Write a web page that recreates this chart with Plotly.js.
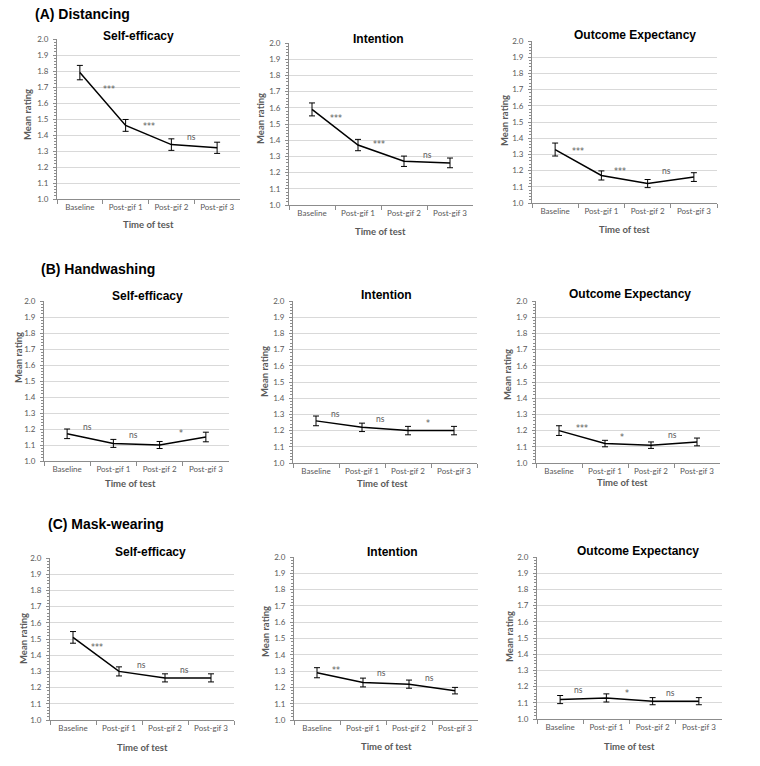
<!DOCTYPE html>
<html>
<head>
<meta charset="utf-8">
<script src="https://cdn.plot.ly/plotly-3.0.1.min.js"></script>
<style>html,body{margin:0;padding:0;background:#fff;}#chart{width:760px;height:766px;}</style>
</head>
<body>
<div id="chart"></div>
<script>
// ---------------- DATA ----------------
const categories = ['Baseline', 'Post-gif 1', 'Post-gif 2', 'Post-gif 3'];
const measures = ['Self-efficacy', 'Intention', 'Outcome Expectancy'];
const behaviours = ['(A) Distancing', '(B) Handwashing', '(C) Mask-wearing'];

const distSE = [1.79, 1.46, 1.34, 1.32];
const distSEerr = [0.045, 0.037, 0.036, 0.035];
const distInt = [1.59, 1.37, 1.27, 1.26];
const distIntErr = [0.04, 0.035, 0.032, 0.03];
const distOE = [1.33, 1.17, 1.12, 1.16];
const distOEerr = [0.04, 0.028, 0.025, 0.027];

const handSE = [1.17, 1.11, 1.10, 1.15];
const handSEerr = [0.03, 0.025, 0.022, 0.03];
const handInt = [1.26, 1.22, 1.20, 1.20];
const handIntErr = [0.03, 0.026, 0.026, 0.026];
const handOE = [1.20, 1.12, 1.11, 1.13];
const handOEerr = [0.03, 0.02, 0.02, 0.024];

const maskSE = [1.51, 1.30, 1.26, 1.26];
const maskSEerr = [0.036, 0.028, 0.025, 0.025];
const maskInt = [1.29, 1.23, 1.22, 1.18];
const maskIntErr = [0.031, 0.027, 0.025, 0.02];
const maskOE = [1.12, 1.13, 1.11, 1.11];
const maskOEerr = [0.025, 0.025, 0.022, 0.022];

const distSEsig = ['***', '***', 'ns'];
const distIntSig = ['***', '***', 'ns'];
const distOEsig = ['***', '***', 'ns'];
const handSEsig = ['ns', 'ns', '*'];
const handIntSig = ['ns', 'ns', '*'];
const handOEsig = ['***', '*', 'ns'];
const maskSEsig = ['***', 'ns', 'ns'];
const maskIntSig = ['**', 'ns', 'ns'];
const maskOEsig = ['ns', '*', 'ns'];

const yTickVals = [1.0, 1.1, 1.2, 1.3, 1.4, 1.5, 1.6, 1.7, 1.8, 1.9, 2.0];

// ---------------- LAYOUT (pixel geometry) ----------------
const W = 760, H = 766;
const fx = p => p / W;
const fy = p => 1 - p / H;

const series = [
  [distSE, distSEerr, distSEsig], [distInt, distIntErr, distIntSig], [distOE, distOEerr, distOEsig],
  [handSE, handSEerr, handSEsig], [handInt, handIntErr, handIntSig], [handOE, handOEerr, handOEsig],
  [maskSE, maskSEerr, maskSEsig], [maskInt, maskIntErr, maskIntSig], [maskOE, maskOEerr, maskOEsig]
];

// [x0, x1, yTop, yBottom], title (x,y), ylabel (x,y), xlabel (x,y), significance label positions
const geom = [
  {box: [57, 240, 39, 199], t: [138, 36], yl: [28, 114], xl: [148, 225], sig: [[0.63, 1.70], [1.5, 1.47], [2.43, 1.39]]},
  {box: [289, 473, 43, 205], t: [378, 39], yl: [260, 119], xl: [381, 231], sig: [[0.52, 1.55], [1.46, 1.39], [2.5, 1.31]]},
  {box: [532, 717, 41, 203], t: [635, 35], yl: [505, 121], xl: [624, 229], sig: [[0.5, 1.33], [1.4, 1.21], [2.4, 1.20]]},
  {box: [44, 229, 301, 461], t: [147, 296], yl: [18, 358], xl: [130, 483], sig: [[0.44, 1.21], [1.43, 1.16], [2.47, 1.19]]},
  {box: [293, 477, 301, 463], t: [386, 295], yl: [264, 372], xl: [383, 483], sig: [[0.42, 1.30], [1.40, 1.27], [2.43, 1.26]]},
  {box: [536, 720, 301, 463], t: [630, 294], yl: [508, 375], xl: [622, 482], sig: [[0.51, 1.23], [1.38, 1.17], [2.46, 1.17]]},
  {box: [50, 234, 558, 720], t: [150, 552], yl: [23, 639], xl: [142, 747], sig: [[0.53, 1.46], [1.48, 1.34], [2.43, 1.31]]},
  {box: [294, 478, 557, 720], t: [392, 552], yl: [265, 632], xl: [386, 746], sig: [[0.41, 1.32], [1.40, 1.29], [2.45, 1.26]]},
  {box: [537, 722, 557, 719], t: [638, 551], yl: [509, 637], xl: [629, 746], sig: [[0.40, 1.18], [1.45, 1.17], [2.38, 1.16]]}
];
const headers = [[33, 14], [39, 269], [46, 524]];

const GRAY = '#595959';
const AXC = '#8c8c8c';
const tickFont = {family: 'Lato, Calibri, sans-serif', size: 8, color: GRAY};

const traces = [];
const layout = {
  width: W, height: H,
  margin: {l: 0, r: 0, t: 0, b: 0},
  paper_bgcolor: '#ffffff', plot_bgcolor: '#ffffff',
  showlegend: false,
  annotations: [],
  font: {family: 'Lato, sans-serif'}
};

series.forEach((s, i) => {
  const n = i + 1;
  const xa = n === 1 ? 'x' : 'x' + n;
  const ya = n === 1 ? 'y' : 'y' + n;
  const xk = n === 1 ? 'xaxis' : 'xaxis' + n;
  const yk = n === 1 ? 'yaxis' : 'yaxis' + n;
  const g = geom[i];

  traces.push({
    type: 'scatter', mode: 'lines',
    x: categories, y: s[0],
    xaxis: xa, yaxis: ya,
    line: {color: '#000000', width: 1.5},
    error_y: {type: 'data', array: s[1], visible: true, color: '#000000', thickness: 1, width: 3},
    hoverinfo: 'skip'
  });

  layout[xk] = {
    domain: [fx(g.box[0]), fx(g.box[1])],
    anchor: ya,
    type: 'category',
    categoryorder: 'array', categoryarray: categories,
    range: [-0.5, 3.5],
    tickson: 'boundaries',
    ticks: 'outside', ticklen: 4, tickcolor: AXC, tickwidth: 1,
    showline: true, linecolor: AXC, linewidth: 1,
    showgrid: false, zeroline: false,
    tickfont: tickFont,
    fixedrange: true
  };
  layout[yk] = {
    domain: [fy(g.box[3]), fy(g.box[2])],
    anchor: xa,
    range: [1.0, 2.0],
    tickmode: 'array', tickvals: yTickVals,
    tickformat: '.1f',
    ticks: 'outside', ticklen: 3, tickcolor: AXC, tickwidth: 1,
    ticklabelstandoff: 3,
    showline: true, linecolor: AXC, linewidth: 1,
    showgrid: true, gridcolor: '#d9d9d9', gridwidth: 1,
    zeroline: false,
    minor: {dtick: 0.02, tick0: 1.0, ticks: 'outside', ticklen: 2, tickcolor: AXC, showgrid: false},
    tickfont: tickFont,
    fixedrange: true
  };

  // subplot title
  layout.annotations.push({
    text: '<b>' + measures[i % 3] + '</b>', xref: 'paper', yref: 'paper',
    x: fx(g.t[0]), y: fy(g.t[1]), xanchor: 'center', yanchor: 'middle', showarrow: false,
    font: {family: 'Liberation Sans, Arial, sans-serif', size: 12, color: '#000000'}
  });
  // y axis title
  layout.annotations.push({
    text: '<b>Mean rating</b>', xref: 'paper', yref: 'paper',
    x: fx(g.yl[0]), y: fy(g.yl[1]), xanchor: 'center', yanchor: 'middle', showarrow: false,
    textangle: -90,
    font: {family: 'Lato, Calibri, sans-serif', size: 9.5, color: GRAY}
  });
  // x axis title
  layout.annotations.push({
    text: '<b>Time of test</b>', xref: 'paper', yref: 'paper',
    x: fx(g.xl[0]), y: fy(g.xl[1]), xanchor: 'center', yanchor: 'middle', showarrow: false,
    font: {family: 'Lato, Calibri, sans-serif', size: 9.5, color: GRAY}
  });
  // significance labels
  s[2].forEach((lab, k) => {
    const star = lab.indexOf('*') >= 0;
    layout.annotations.push({
      text: lab, xref: xa, yref: ya,
      x: g.sig[k][0], y: g.sig[k][1] - (star ? 0.015 : 0),
      xanchor: 'center', yanchor: 'middle', showarrow: false,
      font: {family: star ? 'DejaVu Sans, sans-serif' : 'Lato, Calibri, sans-serif', size: star ? 8 : 8.5, color: GRAY}
    });
  });
});

behaviours.forEach((b, r) => {
  layout.annotations.push({
    text: '<b>' + b + '</b>', xref: 'paper', yref: 'paper',
    x: fx(headers[r][0]), y: fy(headers[r][1]), xanchor: 'left', yanchor: 'middle', showarrow: false,
    font: {family: 'Liberation Sans, Arial, sans-serif', size: 14, color: '#000000'}
  });
});

Plotly.newPlot('chart', traces, layout, {displayModeBar: false, staticPlot: true});
</script>
</body>
</html>
